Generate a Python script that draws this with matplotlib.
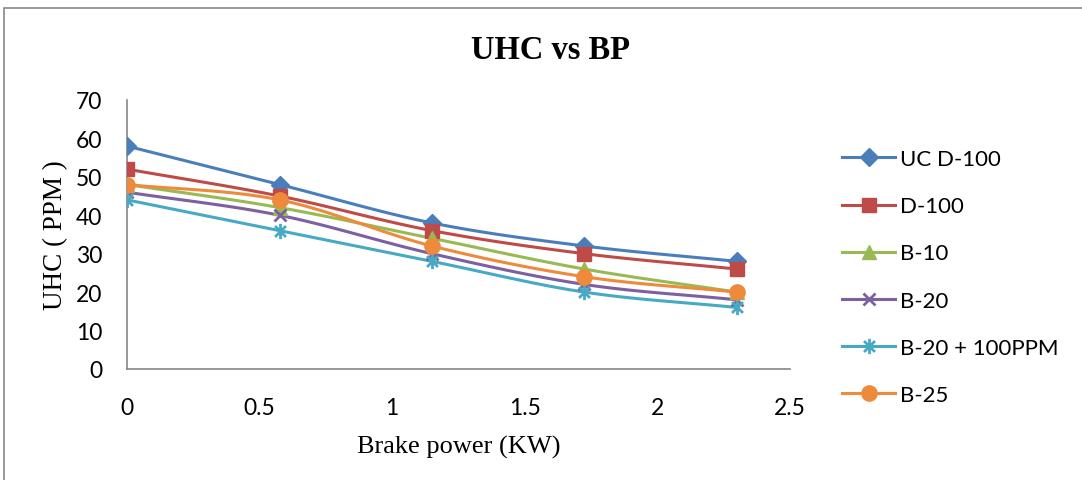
import matplotlib
matplotlib.use("Agg")
import matplotlib.pyplot as plt
from matplotlib.patches import Rectangle
from matplotlib.path import Path
import numpy as np

# data
brake_power = [0, 0.575, 1.15, 1.725, 2.3]
uc_d100 = [58, 48, 38, 32, 28]
d100 = [52, 45, 36, 30, 26]
b10 = [48, 42, 34, 26, 20]
b20 = [46, 40, 30, 22, 18]
b20_ppm = [44, 36, 28, 20, 16]
b25 = [48, 44, 32, 24, 20]

labels = ["UC D-100", "D-100", "B-10", "B-20", "B-20 + 100PPM", "B-25"]
series = [uc_d100, d100, b10, b20, b20_ppm, b25]

# Excel style star: an x with a vertical bar through it
star = Path([(-0.5, -0.5), (0.5, 0.5), (-0.5, 0.5), (0.5, -0.5), (0, -0.7), (0, 0.7)],
            [Path.MOVETO, Path.LINETO, Path.MOVETO, Path.LINETO, Path.MOVETO, Path.LINETO])

colors = ["#4A7EBB", "#BE4B48", "#98B954", "#7D60A0", "#46AAC5", "#EE8A3C"]
markers = ["D", "s", "^", "x", star, "o"]
msizes = [9, 10.5, 10, 9, 11, 11]


def smooth(x, y, n=30):
    # Catmull-Rom curve through the points, like Excel's smoothed line
    x = np.asarray(x, float)
    y = np.asarray(y, float)
    px = np.concatenate([[2 * x[0] - x[1]], x, [2 * x[-1] - x[-2]]])
    py = np.concatenate([[2 * y[0] - y[1]], y, [2 * y[-1] - y[-2]]])
    t = np.linspace(0, 1, n)
    xs, ys = [], []
    for i in range(1, len(px) - 2):
        for arr, out in ((px, xs), (py, ys)):
            p0, p1, p2, p3 = arr[i - 1], arr[i], arr[i + 1], arr[i + 2]
            seg = 0.5 * ((2 * p1) + (-p0 + p2) * t
                         + (2 * p0 - 5 * p1 + 4 * p2 - p3) * t ** 2
                         + (-p0 + 3 * p1 - 3 * p2 + p3) * t ** 3)
            out.extend(seg)
    return xs, ys


fig = plt.figure(figsize=(10.82, 4.81), dpi=100)
ax = fig.add_axes([0.1174, 0.2308, 0.6127, 0.5593])

tick_font = "Lato"
serif = "Liberation Serif"

for vals, lab, c, m, ms in zip(series, labels, colors, markers, msizes):
    mew = 2 if (m is star or m == "x") else 1
    sx, sy = smooth(brake_power, vals)
    ax.plot(sx, sy, color=c, lw=2.2, zorder=2)
    ax.plot(brake_power, vals, linestyle="none", marker=m, markersize=ms,
            color=c, markeredgecolor=c, markeredgewidth=mew, zorder=3)
    ax.plot([], [], color=c, lw=2.2, marker=m, markersize=ms, markeredgecolor=c,
            markeredgewidth=mew, label=lab)

ax.set_xlim(0, 2.5)
ax.set_ylim(0, 70)
ax.set_xticks(np.arange(0, 2.51, 0.5))
ax.set_xticklabels(["0", "0.5", "1", "1.5", "2", "2.5"])
ax.set_yticks(range(0, 71, 10))

for s in ["top", "right"]:
    ax.spines[s].set_visible(False)
for s in ["left", "bottom"]:
    ax.spines[s].set_color("#868686")
    ax.spines[s].set_linewidth(1.2)

ax.tick_params(axis="both", length=0, labelsize=16.5)
ax.tick_params(axis="x", pad=20)
ax.tick_params(axis="y", pad=18)
for t in ax.get_xticklabels() + ax.get_yticklabels():
    t.set_fontfamily(tick_font)

ax.set_xlabel("Brake power (KW)", fontsize=19, family=serif, labelpad=12)
ax.set_ylabel("UHC ( PPM )", fontsize=19.5, family=serif, labelpad=5)
fig.text(0.509, 0.896, "UHC vs BP", ha="center", va="center", fontsize=23.5,
         fontweight="bold", family=serif)

leg = ax.legend(loc="upper left", bbox_to_anchor=(1.065, 0.85), frameon=False,
                prop={"family": tick_font, "size": 16}, handlelength=2.4,
                handletextpad=0.2, labelspacing=1.22, borderaxespad=0)

# chart border (only top and left edges show in the crop)
fig.add_artist(Rectangle((0.0037, -0.2), 1.2, 0.2 + 0.981, transform=fig.transFigure,
                         fill=False, edgecolor="#868686", lw=1.2))

fig.savefig("out.png", dpi=100)
